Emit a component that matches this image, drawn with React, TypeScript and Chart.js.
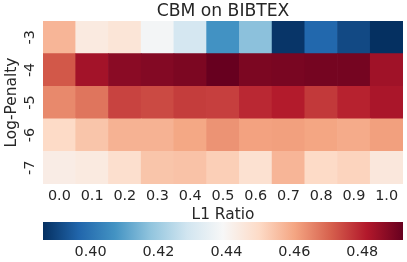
import React, { useEffect, useRef } from 'react';
import { Chart, registerables } from 'chart.js';

Chart.register(...registerables);

const TITLE = 'CBM on BIBTEX';
const X_LABEL = 'L1 Ratio';
const Y_LABEL = 'Log-Penalty';
const L1_RATIOS = ['0.0', '0.1', '0.2', '0.3', '0.4', '0.5', '0.6', '0.7', '0.8', '0.9', '1.0'];
const LOG_PENALTIES = ['-3', '-4', '-5', '-6', '-7'];

// one array per Log-Penalty row (top to bottom), one value per L1 ratio
const ROW_M3 = [0.457, 0.444, 0.446, 0.438, 0.4295, 0.407, 0.417, 0.387, 0.397, 0.391, 0.386];
const ROW_M4 = [0.472, 0.4835, 0.487, 0.488, 0.489, 0.492, 0.489, 0.4895, 0.490, 0.490, 0.484];
const ROW_M5 = [0.4645, 0.4676, 0.475, 0.474, 0.476, 0.4756, 0.479, 0.481, 0.4766, 0.480, 0.4825];
const ROW_M6 = [0.4496, 0.454, 0.4576, 0.4576, 0.4597, 0.463, 0.4607, 0.461, 0.460, 0.459, 0.461];
const ROW_M7 = [0.443, 0.444, 0.448, 0.454, 0.4545, 0.452, 0.4475, 0.457, 0.4496, 0.451, 0.445];
const ROWS = [ROW_M3, ROW_M4, ROW_M5, ROW_M6, ROW_M7];

const COLORBAR_MIN = 0.386;
const COLORBAR_MAX = 0.492;
const COLORBAR_TICKS = [0.40, 0.42, 0.44, 0.46, 0.48];

const RDBU_R = ['#053061', '#2166ac', '#4393c3', '#92c5de', '#d1e5f0', '#f7f7f7', '#fddbc7', '#f4a582', '#d6604d', '#b2182b', '#67001f'];

const TEXT_COLOR = '#262626';
const FONT_FAMILY = '"DejaVu Sans", sans-serif';

function hexToRgb(h: string): number[] {
  const n = parseInt(h.slice(1), 16);
  return [(n >> 16) & 255, (n >> 8) & 255, n & 255];
}

function colorFor(v: number): string {
  let t = (v - COLORBAR_MIN) / (COLORBAR_MAX - COLORBAR_MIN);
  t = Math.max(0, Math.min(1, t));
  const pos = t * (RDBU_R.length - 1);
  const i = Math.min(Math.floor(pos), RDBU_R.length - 2);
  const f = pos - i;
  const a = hexToRgb(RDBU_R[i]);
  const b = hexToRgb(RDBU_R[i + 1]);
  const c = a.map((x, k) => Math.round(x + (b[k] - x) * f));
  return `rgb(${c[0]}, ${c[1]}, ${c[2]})`;
}

export default function App() {
  const heatRef = useRef<HTMLCanvasElement | null>(null);
  const barRef = useRef<HTMLCanvasElement | null>(null);

  useEffect(() => {
    const n = LOG_PENALTIES.length;
    // stacked from bottom (-7) to top (-3)
    const datasets = ROWS.map((row, r) => ({
      label: LOG_PENALTIES[r],
      data: row.map(() => 1),
      backgroundColor: row.map((v) => colorFor(v)),
      borderWidth: 0,
      barPercentage: 1,
      categoryPercentage: 1,
    })).reverse();

    const heat = new Chart(heatRef.current as HTMLCanvasElement, {
      type: 'bar',
      data: { labels: L1_RATIOS, datasets },
      options: {
        animation: false,
        responsive: false,
        events: [],
        layout: { padding: { left: 0, right: 4, top: 0, bottom: 0 } },
        plugins: {
          legend: { display: false },
          tooltip: { enabled: false },
          title: {
            display: true,
            text: TITLE,
            fullSize: false,
            color: TEXT_COLOR,
            font: { family: FONT_FAMILY, size: 17.2, weight: 'normal', lineHeight: 1.1 },
            padding: { top: 2.1, bottom: 0 },
          },
        },
        scales: {
          x: {
            type: 'category',
            stacked: true,
            grid: { display: false, drawTicks: false },
            border: { display: false },
            ticks: { color: TEXT_COLOR, padding: 4, font: { family: FONT_FAMILY, size: 14.4 } },
            title: {
              display: true,
              text: X_LABEL,
              color: TEXT_COLOR,
              font: { family: FONT_FAMILY, size: 15.4 },
              padding: { top: 0, bottom: 0 },
            },
            afterFit: (s: any) => { s.height = 40; },
          },
          y: {
            type: 'linear',
            stacked: true,
            min: 0,
            max: n,
            grid: { display: false, drawTicks: false },
            border: { display: false },
            afterBuildTicks: (s: any) => {
              s.ticks = LOG_PENALTIES.map((_, i) => ({ value: n - 0.5 - i }));
            },
            ticks: {
              color: TEXT_COLOR,
              padding: 5.5,
              crossAlign: 'center',
              minRotation: 90,
              maxRotation: 90,
              font: { family: FONT_FAMILY, size: 14.4 },
              callback: (v: any) => LOG_PENALTIES[Math.round(n - 0.5 - Number(v))],
            },
            title: {
              display: true,
              text: Y_LABEL,
              color: TEXT_COLOR,
              font: { family: FONT_FAMILY, size: 15.4 },
              padding: { top: 2.5, bottom: 0 },
            },
            afterFit: (s: any) => { s.width = 43; },
          },
        },
      } as any,
    });

    const bar = new Chart(barRef.current as HTMLCanvasElement, {
      type: 'bar',
      data: {
        labels: [''],
        datasets: [{
          data: [[COLORBAR_MIN, COLORBAR_MAX]] as any,
          backgroundColor: (ctx: any) => {
            const area = ctx.chart.chartArea;
            if (!area) return RDBU_R[5];
            const g = ctx.chart.ctx.createLinearGradient(area.left, 0, area.right, 0);
            RDBU_R.forEach((c, i) => g.addColorStop(i / (RDBU_R.length - 1), c));
            return g;
          },
          borderWidth: 0,
          barPercentage: 1,
          categoryPercentage: 1,
        }],
      },
      options: {
        animation: false,
        responsive: false,
        events: [],
        indexAxis: 'y',
        layout: { padding: { left: 43, right: 4, top: 0, bottom: 0 } },
        plugins: { legend: { display: false }, tooltip: { enabled: false }, title: { display: false } },
        scales: {
          x: {
            type: 'linear',
            min: COLORBAR_MIN,
            max: COLORBAR_MAX,
            grid: { display: false, drawTicks: false },
            border: { display: false },
            afterBuildTicks: (s: any) => { s.ticks = COLORBAR_TICKS.map((v) => ({ value: v })); },
            ticks: {
              color: TEXT_COLOR,
              padding: 4,
              font: { family: FONT_FAMILY, size: 14.4 },
              callback: (v: any) => Number(v).toFixed(2),
            },
            afterFit: (s: any) => { s.height = 22; },
          },
          y: { display: false },
        },
      } as any,
    });

    return () => { heat.destroy(); bar.destroy(); };
  }, []);

  return (
    <div style={{ position: 'absolute', left: 0, top: 0, width: 407, height: 262, background: '#fff' }}>
      <canvas ref={heatRef} width={407} height={224} style={{ position: 'absolute', left: 0, top: 0, display: 'block' }} />
      <canvas ref={barRef} width={407} height={40} style={{ position: 'absolute', left: 0, top: 222, display: 'block' }} />
    </div>
  );
}
